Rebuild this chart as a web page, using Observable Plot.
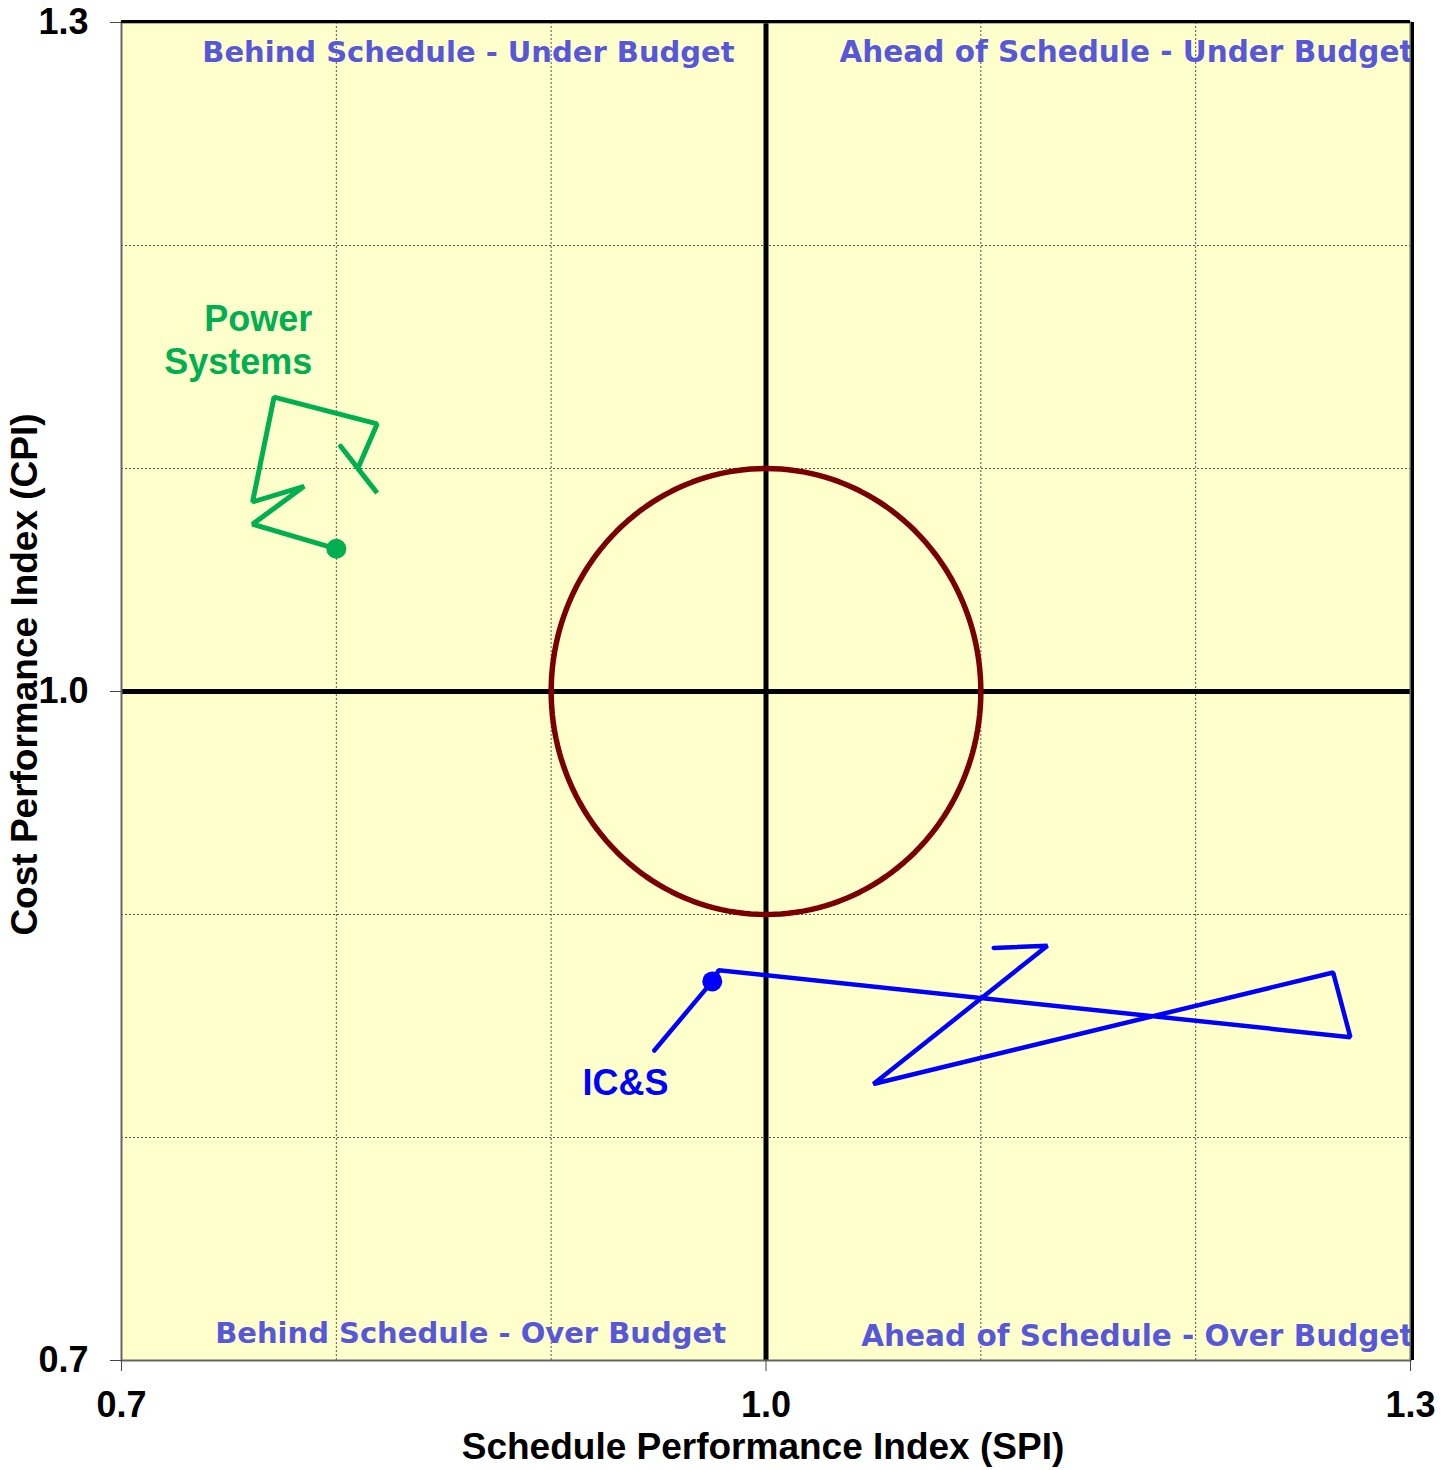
<!DOCTYPE html>
<html>
<head>
<meta charset="utf-8">
<script src="https://cdn.jsdelivr.net/npm/d3@7"></script>
<script src="https://cdn.jsdelivr.net/npm/@observablehq/plot@0.6"></script>
<style>
  html, body { margin: 0; padding: 0; background: #ffffff; }
  #chart svg { display: block; overflow: visible; }
</style>
</head>
<body>
<div id="chart"></div>
<script>
// ---- Data ----
const tickValues = [0.7, 1.0, 1.3];
const gridValues = [0.8, 0.9, 1.1, 1.2];

const powerSPI = [0.802, 0.819, 0.810, 0.819, 0.771, 0.761, 0.785, 0.761, 0.800];
const powerCPI = [1.110, 1.089, 1.100, 1.120, 1.132, 1.085, 1.092, 1.075, 1.064];

const icsSPI = [1.106, 1.131, 1.050, 1.264, 1.272, 0.978, 0.975];
const icsCPI = [0.885, 0.886, 0.824, 0.874, 0.845, 0.875, 0.870];

const seriesNames = ["Power Systems", "IC&S"];
const quadrantLabels = [
  "Behind Schedule - Under Budget",
  "Ahead of Schedule - Under Budget",
  "Behind Schedule - Over Budget",
  "Ahead of Schedule - Over Budget"
];
const axisTitles = ["Schedule Performance Index (SPI)", "Cost Performance Index (CPI)"];
const targetCenter = [1.0, 1.0];
const targetRadius = 0.1;

// ---- Build tables ----
const power = powerSPI.map((x, i) => ({x, y: powerCPI[i]}));
const ics = icsSPI.map((x, i) => ({x, y: icsCPI[i]}));
const circle = d3.range(0, 361, 2).map(a => ({
  x: targetCenter[0] + targetRadius * Math.cos(a * Math.PI / 180),
  y: targetCenter[1] + targetRadius * Math.sin(a * Math.PI / 180)
}));
const icsLeader = [{x: 0.948, y: 0.839}, ics[ics.length - 1]];

const quadFont = "DejaVu Sans, Verdana, sans-serif";
const quadColor = "#5757d9";
const mainFont = "Liberation Sans, Arial, sans-serif";

const chart = Plot.plot({
  width: 1450,
  height: 1470,
  marginLeft: 121,
  marginRight: 40,
  marginTop: 22,
  marginBottom: 110,
  style: {background: "#ffffff", fontFamily: mainFont},
  x: {domain: [0.7, 1.3]},
  y: {domain: [0.7, 1.3]},
  marks: [
    Plot.frame({fill: "#ffffcc", stroke: "none"}),
    Plot.gridX(gridValues, {stroke: "#555", strokeOpacity: 1, strokeWidth: 1, strokeDasharray: "2,2"}),
    Plot.gridY(gridValues, {stroke: "#555", strokeOpacity: 1, strokeWidth: 1, strokeDasharray: "2,2"}),
    Plot.ruleX([1.0], {stroke: "black", strokeWidth: 5}),
    Plot.ruleY([1.0], {stroke: "black", strokeWidth: 5}),
    Plot.line(circle, {x: "x", y: "y", stroke: "#7a0000", strokeWidth: 5.5}),
    Plot.line(power, {x: "x", y: "y", stroke: "#00b050", strokeWidth: 5, strokeLinejoin: "miter", strokeLinecap: "round"}),
    Plot.dot([power[power.length - 1]], {x: "x", y: "y", r: 10, fill: "#00b050"}),
    Plot.line(ics, {x: "x", y: "y", stroke: "#0000ff", strokeWidth: 4.5, strokeLinejoin: "miter", strokeLinecap: "round"}),
    Plot.line(icsLeader, {x: "x", y: "y", stroke: "#0000ff", strokeWidth: 4.5, strokeLinecap: "round"}),
    Plot.dot([ics[ics.length - 1]], {x: "x", y: "y", r: 10, fill: "#0000ff"}),
    // Series labels
    Plot.text([seriesNames[0]], {x: 0.8, y: 1.15, text: d => d.replace(" ", "\n"), textAnchor: "end", lineAnchor: "middle", dx: -24, dy: -18, lineHeight: 1.2, fontSize: 36, fontWeight: "bold", fill: "#00b050", fontFamily: mainFont}),
    Plot.text([seriesNames[1]], {x: 0.9346, y: 0.8242, text: d => d, textAnchor: "middle", lineAnchor: "middle", fontSize: 36, fontWeight: "bold", fill: "#0000ff", fontFamily: mainFont}),
    // Quadrant labels
    Plot.text([quadrantLabels[0]], {x: 0.8615, y: 1.3, text: d => d, textAnchor: "middle", lineAnchor: "middle", dy: 30, fontSize: 29, fontWeight: "bold", fill: quadColor, fontFamily: quadFont}),
    Plot.text([quadrantLabels[1]], {x: 1.3, y: 1.3, text: d => d, textAnchor: "end", lineAnchor: "middle", dx: 3, dy: 30, fontSize: 29.5, fontWeight: "bold", fill: quadColor, fontFamily: quadFont}),
    Plot.text([quadrantLabels[2]], {x: 0.8625, y: 0.7, text: d => d, textAnchor: "middle", lineAnchor: "middle", dy: -27, fontSize: 29, fontWeight: "bold", fill: quadColor, fontFamily: quadFont}),
    Plot.text([quadrantLabels[3]], {x: 1.3, y: 0.7, text: d => d, textAnchor: "end", lineAnchor: "middle", dx: 3, dy: -24, fontSize: 29.5, fontWeight: "bold", fill: quadColor, fontFamily: quadFont}),
    // Frame
    Plot.frame({stroke: "#666", strokeWidth: 2}),
    Plot.ruleY([1.3], {stroke: "black", strokeWidth: 3, dy: -1}),
    Plot.ruleX([1.3], {stroke: "black", strokeWidth: 3, dx: 2}),
    // Axes
    Plot.axisX(tickValues, {tickSize: 11, tickPadding: 20, tickFormat: d3.format(".1f"), fontSize: 36, fontWeight: "bold", fontFamily: mainFont, stroke: "#444", color: "black", label: null}),
    Plot.axisY(tickValues, {tickSize: 11, tickPadding: 22, tickFormat: d3.format(".1f"), fontSize: 36, fontWeight: "bold", fontFamily: mainFont, stroke: "#444", color: "black", label: null}),
    Plot.text([axisTitles[0]], {frameAnchor: "bottom", text: d => d, textAnchor: "middle", lineAnchor: "middle", dy: 87, dx: -3, fontSize: 37, fontWeight: "bold", fill: "black", fontFamily: mainFont}),
    Plot.text([axisTitles[1]], {frameAnchor: "left", text: d => d, textAnchor: "middle", lineAnchor: "middle", rotate: -90, dx: -96, dy: -17, fontSize: 37, fontWeight: "bold", fill: "black", fontFamily: mainFont})
  ]
});

document.getElementById("chart").appendChild(chart);
</script>
</body>
</html>
